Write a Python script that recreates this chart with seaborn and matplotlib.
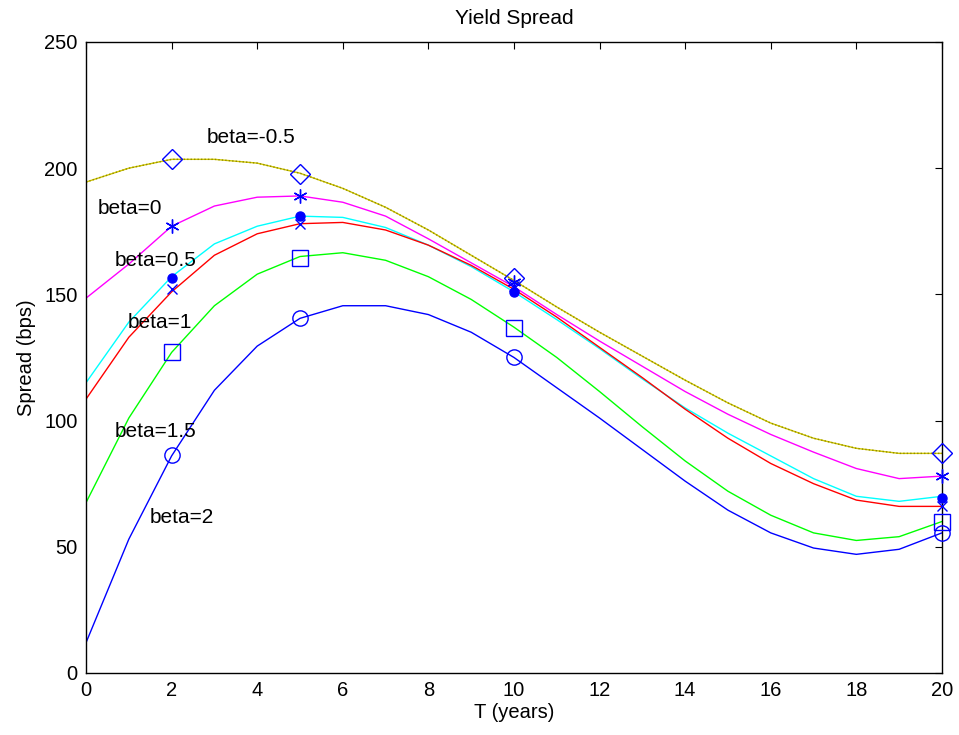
import pandas as pd
import numpy as np
import seaborn as sns
import matplotlib
matplotlib.use("Agg")
import matplotlib.pyplot as plt

# maturities (years) used for the curves
T = list(range(0, 21))

# spread curves (bps) for each beta
spread_m05 = [194.5, 200, 203.5, 203.5, 202, 198, 192, 184.5, 175.5, 165.5, 155.5,
              145, 135, 125.5, 116, 107, 99, 93, 89, 87, 87]
spread_0 = [148.5, 162, 177, 185, 188.5, 189, 186.5, 181, 172, 162.5, 153,
            142, 131.5, 121.5, 111.5, 102.5, 94.5, 87.5, 81, 77, 78]
spread_05 = [115, 139, 157, 170, 177, 181, 180.5, 176.5, 169.5, 161, 151,
             140, 128.5, 116.5, 105, 95, 86, 77, 70, 68, 70]
spread_1 = [108.5, 133, 151, 165.5, 174, 178, 178.5, 175.5, 169.5, 161.5, 152,
            141, 129, 117, 104.5, 93, 83, 75, 68.5, 66, 66]
spread_15 = [67.5, 101, 127, 145.5, 158, 165, 166.5, 163.5, 157, 148, 137,
             125, 111.5, 97.5, 84, 72, 62.5, 55.5, 52.5, 54, 60]
spread_2 = [12, 53, 86, 112, 129.5, 140.5, 145.5, 145.5, 142, 135, 125,
            113, 101, 88.5, 76, 64.5, 55.5, 49.5, 47, 49, 55.5]

betas = ["-0.5", "0", "0.5", "1", "1.5", "2"]
curves = [spread_m05, spread_0, spread_05, spread_1, spread_15, spread_2]
line_colors = ["#d2c800", "#ff00ff", "#00ffff", "#ff0000", "#00ff00", "#0000ff"]

# marker points (model values at selected maturities)
T_marks = [2, 5, 10, 20]
marks_m05 = [203.5, 197.5, 156.5, 87]
marks_0 = [177, 189, 155, 78]
marks_05 = [156.5, 181, 151, 69.5]
marks_1 = [152, 178, 153.5, 66]
marks_15 = [127, 164.5, 136.5, 60]
marks_2 = [86.5, 140.5, 125.3, 55.5]
mark_sets = [marks_m05, marks_0, marks_05, marks_1, marks_15, marks_2]
mark_styles = ["D", (6, 2, 0), "o", "x", "s", "o"]
mark_filled = [False, True, True, True, False, False]
mark_sizes = [10, 10, 6.5, 6.5, 11, 11]

# label positions for the beta annotations
label_x = [2.82, 0.28, 0.67, 0.97, 0.66, 1.49]
label_y = [212, 184, 163.4, 139, 95.6, 61.4]

df = pd.DataFrame({
    "T": T * len(betas),
    "spread": sum(curves, []),
    "beta": sum([[b] * len(T) for b in betas], []),
})

sns.set_style("white")
plt.rcParams["font.family"] = ["Liberation Sans", "DejaVu Sans"]
plt.rcParams["text.color"] = "black"
plt.rcParams["axes.labelcolor"] = "black"

fig = plt.figure(figsize=(9.59, 7.35), dpi=100)
ax = fig.add_axes([0.0897, 0.0844, 0.8925, 0.8585])

sns.lineplot(data=df, x="T", y="spread", hue="beta", palette=line_colors,
             hue_order=betas, linewidth=1.0, legend=False, ax=ax)
# dotted darker overlay on the yellow curve
ax.plot(T, spread_m05, color="#8f8a00", linewidth=1.0, linestyle=(0, (1, 1.5)))

for vals, m, filled, ms in zip(mark_sets, mark_styles, mark_filled, mark_sizes):
    ax.plot(T_marks, vals, linestyle="none", marker=m, markersize=ms,
            markeredgecolor="#0000ff", markerfacecolor="#0000ff" if filled else "none",
            markeredgewidth=1.0, clip_on=False, zorder=5)

for b, lx, ly in zip(betas, label_x, label_y):
    ax.text(lx, ly, f"beta={b}", fontsize=15, ha="left", va="center", color="black")

ax.set_xlim(0, 20)
ax.set_ylim(0, 250)
ax.set_xticks(range(0, 21, 2))
ax.set_yticks(range(0, 251, 50))
ax.tick_params(direction="in", top=True, right=True, length=5, width=0.8,
               labelsize=14.5, colors="black", pad=6)
for s in ax.spines.values():
    s.set_visible(True)
    s.set_color("black")
    s.set_linewidth(1.0)

ax.set_xlabel("T (years)", fontsize=14.5, labelpad=2)
ax.set_ylabel("Spread (bps)", fontsize=14.5, labelpad=6)
ax.set_title("Yield Spread", fontsize=15, pad=13)

fig.savefig("out.png", dpi=100)
